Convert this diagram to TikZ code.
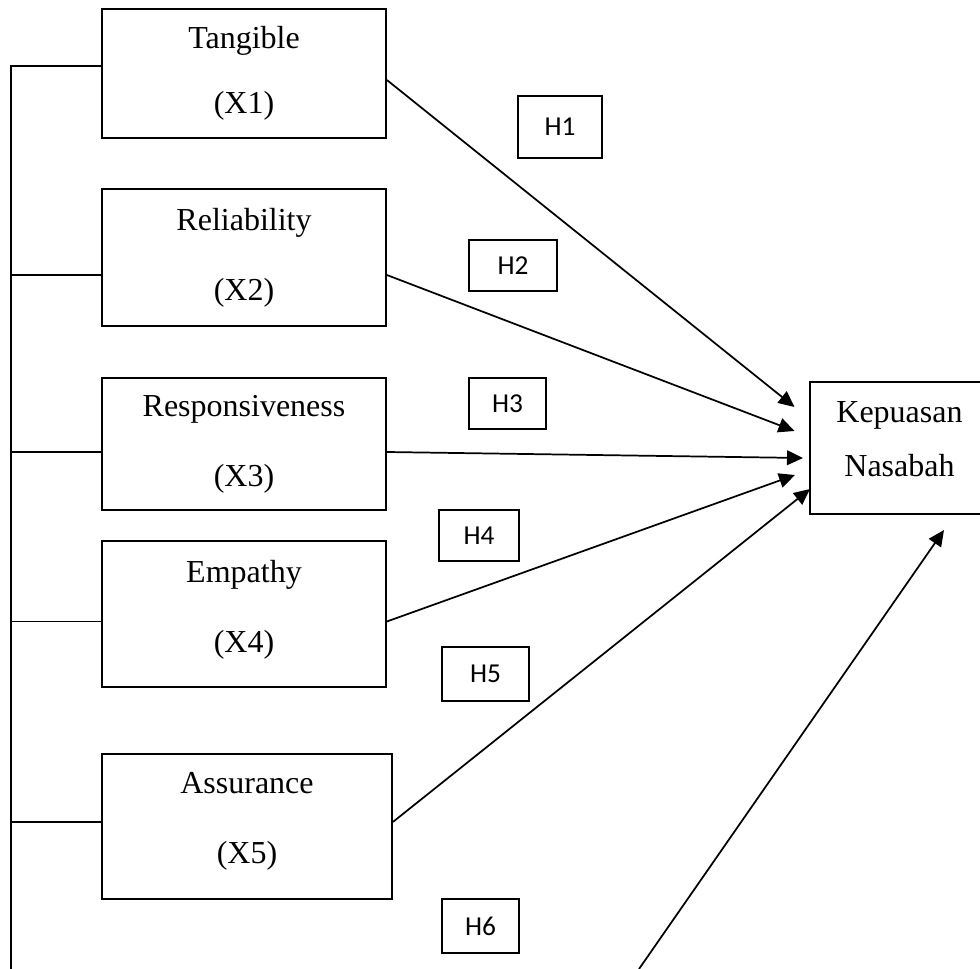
\documentclass[tikz,border=0pt]{standalone}
\usepackage{fontspec}
\setmainfont{Liberation Serif}
\newfontfamily\hfont{Carlito}
\usetikzlibrary{arrows.meta,calc}
\begin{document}
\begin{tikzpicture}[x=0.75pt,y=-0.75pt,
  line width=1.3pt,
  varbox/.style={draw,line width=1.3pt,inner sep=0pt,align=center,
    font=\fontsize{24}{52.5}\selectfont,minimum width=213pt},
  hbox/.style={draw,line width=1.1pt,inner sep=0pt,font=\hfont\fontsize{20.5}{24}\selectfont},
  arr/.style={-{Triangle[length=12pt,width=11pt]},line width=1.3pt}]
\useasboundingbox (0,0) rectangle (980,969);

% variable boxes
\node[varbox,minimum height=96.75pt,font=\fontsize{24}{48.75}\selectfont] (tang) at (244,73.5) {Tangible\\(X1)};
\node[varbox,minimum height=102.75pt] (rel) at (244,257.5) {Reliability\\(X2)};
\node[varbox,minimum height=99pt] (resp) at (244,444) {Responsiveness\\(X3)};
\node[varbox,minimum height=109.5pt] (emp) at (244,614) {Empathy\\(X4)\rule[-11pt]{0pt}{0pt}};
\node[varbox,minimum height=108.75pt,minimum width=217.5pt] (ass) at (247,826.5) {Assurance\\(X5)\rule[-13pt]{0pt}{0pt}};
\node[varbox,minimum height=99pt,minimum width=134.25pt,font=\fontsize{24}{41}\selectfont] (kep) at (899.5,448) {Kepuasan\\Nasabah\rule[-13.5pt]{0pt}{0pt}};

% hypothesis labels
\node[hbox,minimum width=63pt,minimum height=46.5pt] (h1) at (560,127) {H1};
\node[hbox,minimum width=66pt,minimum height=38.25pt] (h2) at (513,265.5) {H2};
\node[hbox,minimum width=57.75pt,minimum height=38.25pt] (h3) at (507.5,403.5) {H3};
\node[hbox,minimum width=60pt,minimum height=38.25pt] (h4) at (479,535.5) {H4};
\node[hbox,minimum width=65.25pt,minimum height=40.5pt] (h5) at (485.5,674) {H5};
\node[hbox,minimum width=57.75pt,minimum height=40.5pt] (h6) at (480.5,926) {H6};

% left bus
\coordinate (bustop) at (11,66);
\coordinate (busbot) at (11,969);
\draw ($(tang.west)+(0,-7.5)$) -- (bustop) -- (busbot);
\draw ($(rel.west)+(0,17.5)$) -- (bustop |- {$(rel.west)+(0,17.5)$});
\draw ($(resp.west)+(0,8)$) -- (bustop |- {$(resp.west)+(0,8)$});
\draw ($(emp.west)+(0,7.5)$) -- (bustop |- {$(emp.west)+(0,7.5)$});
\draw ($(ass.west)+(0,-4.5)$) -- (bustop |- {$(ass.west)+(0,-4.5)$});

% arrow tips
\coordinate (t1) at (794.5,407);
\coordinate (t2) at (794.5,431);
\coordinate (t3) at (803,458);
\coordinate (t4) at (795,475);
\coordinate (t5) at (810,489);
\coordinate (t6) at (944,530);
\coordinate (s6) at (639,969);

\draw[arr] ($(tang.east)+(0,6.5)$) -- (t1);
\draw[arr] ($(rel.east)+(0,17.5)$) -- (t2);
\draw[arr] ($(resp.east)+(0,8)$) -- (t3);
\draw[arr] ($(emp.east)+(0,7.5)$) -- (t4);
\draw[arr] ($(ass.east)+(0,-4.5)$) -- (t5);
\draw[arr] (s6) -- (t6);
\end{tikzpicture}
\end{document}
